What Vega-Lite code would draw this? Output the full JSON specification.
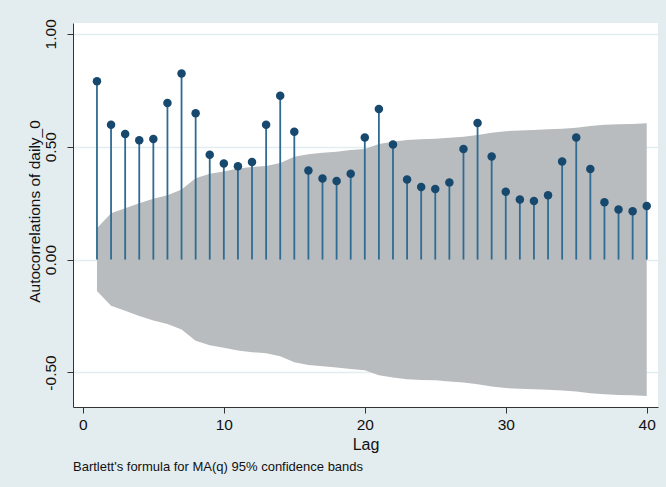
{
  "$schema": "https://vega.github.io/schema/vega-lite/v6.json",
  "width": 585,
  "height": 384,
  "autosize": "none",
  "padding": {"left": 73, "top": 23, "right": 8, "bottom": 80},
  "background": "#e3edf0",
  "config": {
    "view": {"fill": "white", "stroke": null},
    "font": "Liberation Sans"
  },
  "title": {
    "text": "Bartlett's formula for MA(q) 95% confidence bands",
    "orient": "bottom",
    "anchor": "start",
    "frame": "group",
    "fontSize": 13,
    "fontWeight": "normal",
    "color": "#111",
    "offset": 8
  },
  "data": {
    "values": [
      {"lag": 1, "ac": 0.790, "lo": -0.139, "hi": 0.139},
      {"lag": 2, "ac": 0.597, "lo": -0.205, "hi": 0.205},
      {"lag": 3, "ac": 0.556, "lo": -0.227, "hi": 0.227},
      {"lag": 4, "ac": 0.529, "lo": -0.250, "hi": 0.250},
      {"lag": 5, "ac": 0.534, "lo": -0.270, "hi": 0.270},
      {"lag": 6, "ac": 0.694, "lo": -0.285, "hi": 0.285},
      {"lag": 7, "ac": 0.824, "lo": -0.310, "hi": 0.310},
      {"lag": 8, "ac": 0.648, "lo": -0.360, "hi": 0.360},
      {"lag": 9, "ac": 0.464, "lo": -0.380, "hi": 0.380},
      {"lag": 10, "ac": 0.426, "lo": -0.390, "hi": 0.390},
      {"lag": 11, "ac": 0.413, "lo": -0.403, "hi": 0.403},
      {"lag": 12, "ac": 0.432, "lo": -0.410, "hi": 0.410},
      {"lag": 13, "ac": 0.597, "lo": -0.415, "hi": 0.415},
      {"lag": 14, "ac": 0.726, "lo": -0.428, "hi": 0.428},
      {"lag": 15, "ac": 0.566, "lo": -0.455, "hi": 0.455},
      {"lag": 16, "ac": 0.395, "lo": -0.467, "hi": 0.467},
      {"lag": 17, "ac": 0.359, "lo": -0.473, "hi": 0.473},
      {"lag": 18, "ac": 0.348, "lo": -0.478, "hi": 0.478},
      {"lag": 19, "ac": 0.380, "lo": -0.485, "hi": 0.485},
      {"lag": 20, "ac": 0.541, "lo": -0.490, "hi": 0.490},
      {"lag": 21, "ac": 0.667, "lo": -0.512, "hi": 0.512},
      {"lag": 22, "ac": 0.510, "lo": -0.522, "hi": 0.522},
      {"lag": 23, "ac": 0.355, "lo": -0.530, "hi": 0.530},
      {"lag": 24, "ac": 0.322, "lo": -0.533, "hi": 0.533},
      {"lag": 25, "ac": 0.313, "lo": -0.535, "hi": 0.535},
      {"lag": 26, "ac": 0.342, "lo": -0.540, "hi": 0.540},
      {"lag": 27, "ac": 0.490, "lo": -0.544, "hi": 0.544},
      {"lag": 28, "ac": 0.605, "lo": -0.552, "hi": 0.552},
      {"lag": 29, "ac": 0.457, "lo": -0.562, "hi": 0.562},
      {"lag": 30, "ac": 0.300, "lo": -0.569, "hi": 0.569},
      {"lag": 31, "ac": 0.266, "lo": -0.572, "hi": 0.572},
      {"lag": 32, "ac": 0.259, "lo": -0.574, "hi": 0.574},
      {"lag": 33, "ac": 0.285, "lo": -0.577, "hi": 0.577},
      {"lag": 34, "ac": 0.435, "lo": -0.580, "hi": 0.580},
      {"lag": 35, "ac": 0.541, "lo": -0.584, "hi": 0.584},
      {"lag": 36, "ac": 0.401, "lo": -0.592, "hi": 0.592},
      {"lag": 37, "ac": 0.254, "lo": -0.597, "hi": 0.597},
      {"lag": 38, "ac": 0.222, "lo": -0.600, "hi": 0.600},
      {"lag": 39, "ac": 0.214, "lo": -0.601, "hi": 0.601},
      {"lag": 40, "ac": 0.237, "lo": -0.604, "hi": 0.604}
    ]
  },
  "layer": [
    {
      "mark": {"type": "area", "color": "#b8bcbe", "opacity": 1},
      "encoding": {
        "x": {
          "field": "lag",
          "type": "quantitative",
          "scale": {"domain": [-0.7, 40.8], "nice": false, "zero": false},
          "axis": {
            "title": "Lag",
            "values": [0, 10, 20, 30, 40],
            "grid": false,
            "domainColor": "#333",
            "tickColor": "#333",
            "tickSize": 6,
            "labelFontSize": 15.5,
            "labelColor": "#111",
            "labelPadding": 4,
            "titleFontSize": 16,
            "titleFontWeight": "normal",
            "titleColor": "#111",
            "titlePadding": 4
          }
        },
        "y": {
          "field": "lo",
          "type": "quantitative",
          "scale": {"domain": [-0.653, 1.048], "nice": false, "zero": false},
          "axis": {
            "title": "Autocorrelations of daily_0",
            "values": [-0.5, 0, 0.5, 1],
            "labelExpr": "replace(format(datum.value, '.2f'), '\u2212', '-')",
            "labelAngle": -90,
            "labelAlign": "center",
            "labelBaseline": "bottom",
            "grid": true,
            "gridColor": "#e3edf0",
            "gridWidth": 1.5,
            "domainColor": "#333",
            "tickColor": "#333",
            "tickSize": 6,
            "labelFontSize": 15.5,
            "labelColor": "#111",
            "labelPadding": 9,
            "titleFontSize": 15.5,
            "titleFontWeight": "normal",
            "titleColor": "#111",
            "titlePadding": 1,
            "titleY": 188
          }
        },
        "y2": {"field": "hi"}
      }
    },
    {
      "mark": {"type": "rule", "color": "#2f6b92", "strokeWidth": 1.8},
      "encoding": {
        "x": {"field": "lag", "type": "quantitative"},
        "y": {"field": "ac", "type": "quantitative"},
        "y2": {"datum": 0}
      }
    },
    {
      "mark": {"type": "circle", "color": "#17496e", "size": 72, "opacity": 1},
      "encoding": {
        "x": {"field": "lag", "type": "quantitative"},
        "y": {"field": "ac", "type": "quantitative"}
      }
    }
  ]
}
